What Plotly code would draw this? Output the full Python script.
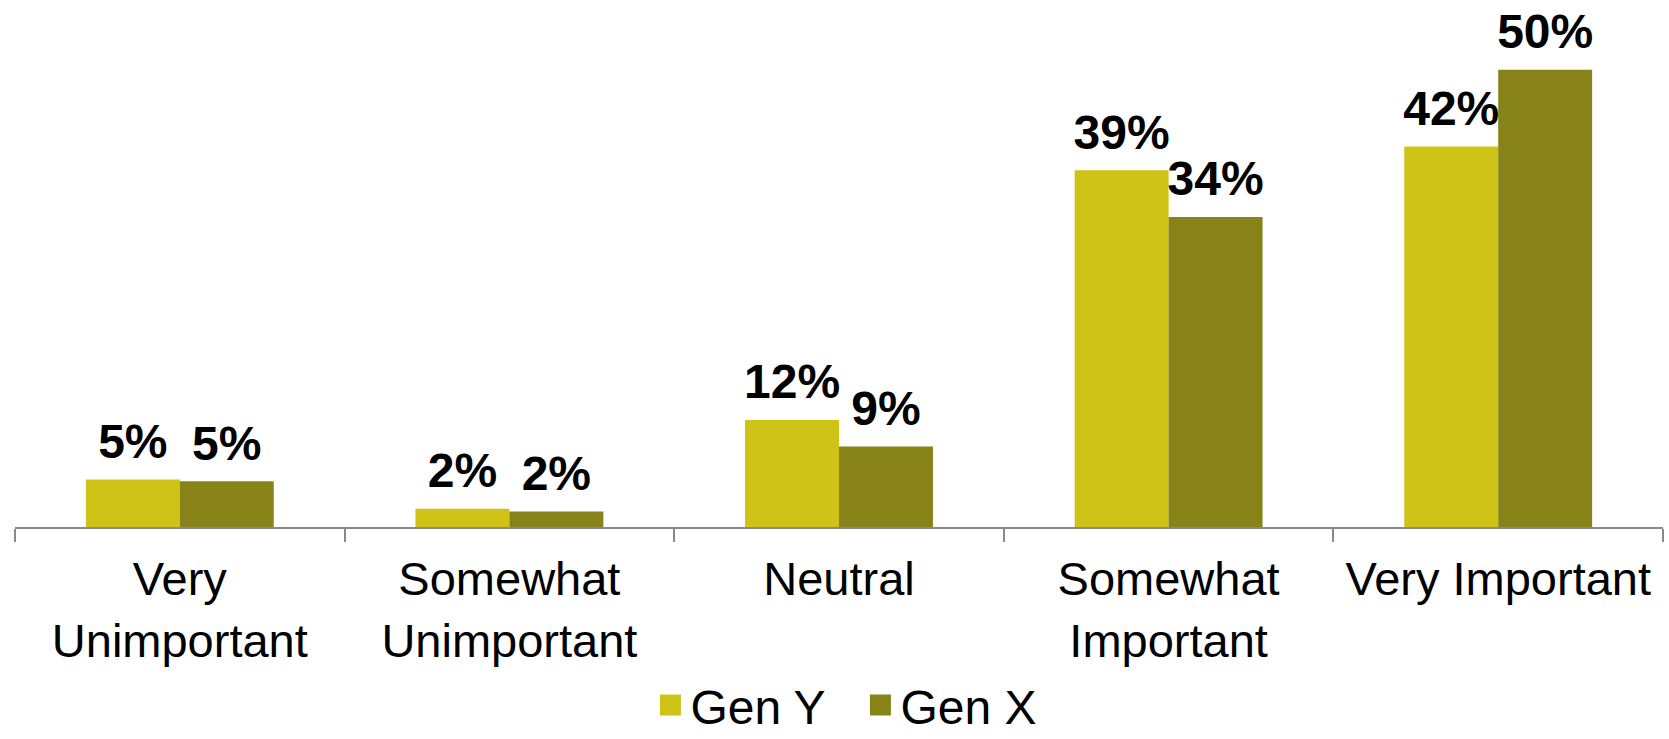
import plotly.graph_objects as go

categories = ["Very<br>Unimportant", "Somewhat<br>Unimportant", "Neutral",
              "Somewhat<br>Important", "Very Important"]
gen_y = [5.2, 2.0, 11.7, 39.0, 41.6]
gen_x = [5.0, 1.7, 8.8, 33.9, 50.0]
series_names = ["Gen Y", "Gen X"]
colors = ["#CFC317", "#878318"]

FONT = "Liberation Sans, Arial, sans-serif"

fig = go.Figure()
for i, (name, vals, col) in enumerate(zip(series_names, [gen_y, gen_x], colors)):
    fig.add_trace(go.Bar(
        x=categories, y=vals, name=name, marker=dict(color=col, line=dict(width=0)),
        offsetgroup=str(i), showlegend=False, hoverinfo="x+y+name",
    ))
    # value labels, aligned over the grouped bars
    fig.add_trace(go.Scatter(
        x=categories, y=vals, mode="markers+text", offsetgroup=str(i),
        texttemplate="%{y:.0f}%", textposition="top center", cliponaxis=False,
        textfont=dict(family=FONT, size=48, color="black", weight="bold"),
        marker=dict(size=14, opacity=0, color=col),
        showlegend=False, hoverinfo="skip",
    ))
    # legend proxy with larger square swatch
    fig.add_trace(go.Scatter(
        x=[None], y=[None], mode="markers", name=name,
        marker=dict(symbol="square", size=16, color=col, line=dict(color=col, width=5)),
        showlegend=True,
    ))

fig.update_layout(
    width=1669, height=739,
    margin=dict(l=15, r=6, t=24, b=212, autoexpand=False),
    paper_bgcolor="white", plot_bgcolor="white",
    barmode="group", bargap=0.43, bargroupgap=0,
    scattermode="group", scattergap=0.43,
    font=dict(family=FONT, color="black"),
    showlegend=True,
    legend=dict(orientation="h", x=0.513, xanchor="center", yref="paper", y=-0.43,
                yanchor="bottom",
                font=dict(family=FONT, size=48, color="black"),
                itemsizing="trace", entrywidth=165, entrywidthmode="pixels"),
)
fig.update_xaxes(
    type="category", showline=True, linecolor="#898989", linewidth=2,
    ticks="outside", tickson="boundaries", ticklen=13, tickcolor="#898989", tickwidth=2,
    tickfont=dict(family=FONT, size=47, color="black"), ticklabelstandoff=10,
    showgrid=False, zeroline=False, automargin=False,
)
fig.update_yaxes(range=[0, 55], visible=False, showgrid=False, zeroline=False, automargin=False)

fig.write_html("out.html")
